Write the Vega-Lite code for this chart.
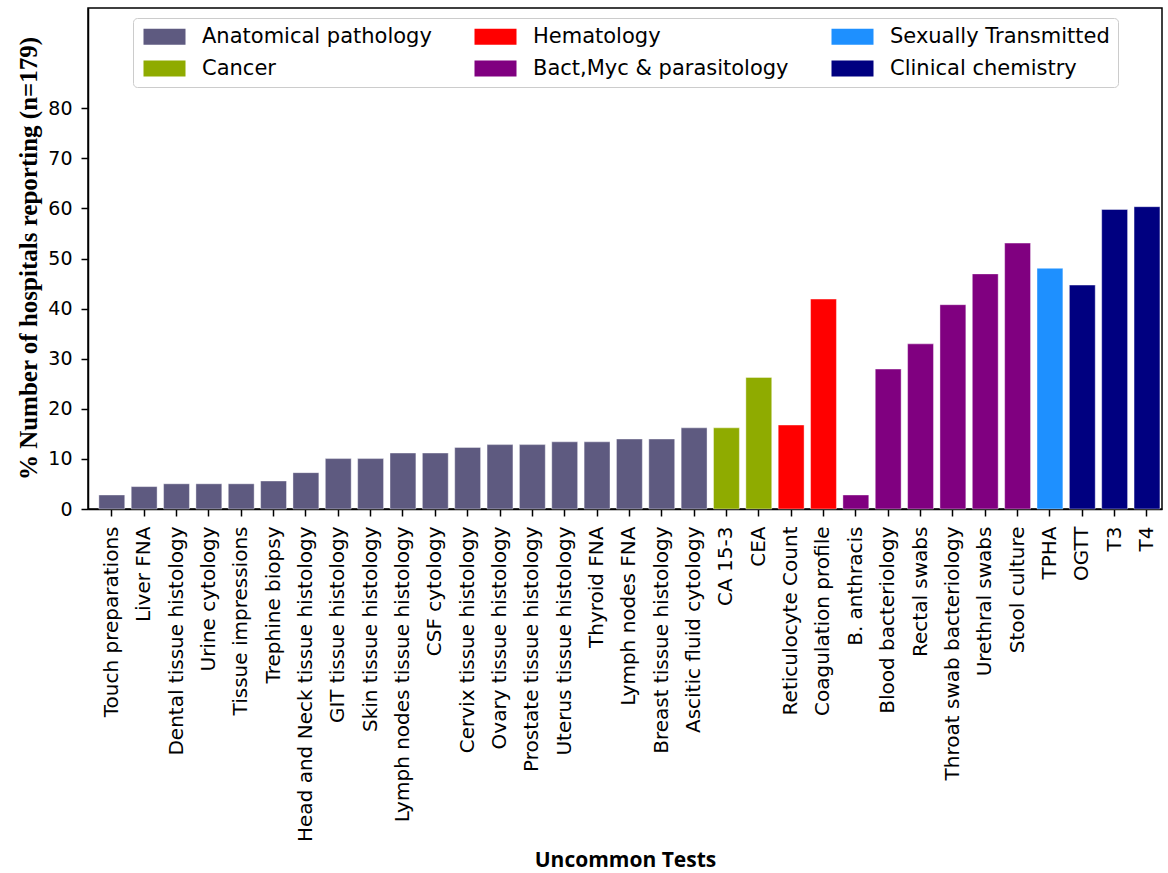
{
  "$schema": "https://vega.github.io/schema/vega-lite/v6.json",
  "autosize": {"type": "none"},
  "width": 1074,
  "height": 501,
  "padding": {"left": 88, "top": 8, "right": 6, "bottom": 364},
  "background": "white",
  "config": {
    "view": {"stroke": "black", "strokeWidth": 1.5},
    "axis": {"grid": false, "domainColor": "black", "domainWidth": 1.5, "tickColor": "black", "tickWidth": 1.5, "labelColor": "black", "titleColor": "black"}
  },
  "data": {
    "values": [
      {"test": "Touch preparations", "value": 2.8, "category": "Anatomical pathology"},
      {"test": "Liver FNA", "value": 4.47, "category": "Anatomical pathology"},
      {"test": "Dental tissue histology", "value": 5.03, "category": "Anatomical pathology"},
      {"test": "Urine cytology", "value": 5.03, "category": "Anatomical pathology"},
      {"test": "Tissue impressions", "value": 5.03, "category": "Anatomical pathology"},
      {"test": "Trephine biopsy", "value": 5.59, "category": "Anatomical pathology"},
      {"test": "Head and Neck tissue histology", "value": 7.26, "category": "Anatomical pathology"},
      {"test": "GIT tissue histology", "value": 10.06, "category": "Anatomical pathology"},
      {"test": "Skin tissue histology", "value": 10.06, "category": "Anatomical pathology"},
      {"test": "Lymph nodes tissue histology", "value": 11.17, "category": "Anatomical pathology"},
      {"test": "CSF cytology", "value": 11.17, "category": "Anatomical pathology"},
      {"test": "Cervix tissue histology", "value": 12.29, "category": "Anatomical pathology"},
      {"test": "Ovary tissue histology", "value": 12.85, "category": "Anatomical pathology"},
      {"test": "Prostate tissue histology", "value": 12.85, "category": "Anatomical pathology"},
      {"test": "Uterus tissue histology", "value": 13.41, "category": "Anatomical pathology"},
      {"test": "Thyroid FNA", "value": 13.41, "category": "Anatomical pathology"},
      {"test": "Lymph nodes FNA", "value": 13.97, "category": "Anatomical pathology"},
      {"test": "Breast tissue histology", "value": 13.97, "category": "Anatomical pathology"},
      {"test": "Ascitic fluid cytology", "value": 16.2, "category": "Anatomical pathology"},
      {"test": "CA 15-3", "value": 16.2, "category": "Cancer"},
      {"test": "CEA", "value": 26.26, "category": "Cancer"},
      {"test": "Reticulocyte Count", "value": 16.76, "category": "Hematology"},
      {"test": "Coagulation profile", "value": 41.9, "category": "Hematology"},
      {"test": "B. anthracis", "value": 2.8, "category": "Bact,Myc & parasitology"},
      {"test": "Blood bacteriology", "value": 27.93, "category": "Bact,Myc & parasitology"},
      {"test": "Rectal swabs", "value": 32.96, "category": "Bact,Myc & parasitology"},
      {"test": "Throat swab bacteriology", "value": 40.78, "category": "Bact,Myc & parasitology"},
      {"test": "Urethral swabs", "value": 46.93, "category": "Bact,Myc & parasitology"},
      {"test": "Stool culture", "value": 53.07, "category": "Bact,Myc & parasitology"},
      {"test": "TPHA", "value": 48.04, "category": "Sexually Transmitted"},
      {"test": "OGTT", "value": 44.69, "category": "Clinical chemistry"},
      {"test": "T3", "value": 59.78, "category": "Clinical chemistry"},
      {"test": "T4", "value": 60.34, "category": "Clinical chemistry"}
    ]
  },
  "mark": {"type": "bar", "stroke": "white", "strokeWidth": 0.8, "strokeOpacity": 0.5},
  "encoding": {
    "x": {
      "field": "test",
      "type": "nominal",
      "sort": null,
      "scale": {"paddingInner": 0.2, "paddingOuter": 0.2, "align": 0.84},
      "axis": {
        "title": "Uncommon Tests",
        "titleFont": "Open Sans",
        "titleFontWeight": "bold",
        "titleFontSize": 21,
        "titleY": 351,
        "titleBaseline": "middle",
        "labelFont": "DejaVu Sans",
        "labelFontSize": 20,
        "labelAngle": -90,
        "labelPadding": 10,
        "tickSize": 7,
        "labelOverlap": false,
        "labelLimit": 0
      }
    },
    "y": {
      "field": "value",
      "type": "quantitative",
      "scale": {"domain": [0, 100], "nice": false},
      "axis": {
        "values": [0, 10, 20, 30, 40, 50, 60, 70, 80],
        "title": "% Number of hospitals reporting (n=179)",
        "titleFont": "Liberation Serif",
        "titleFontWeight": "bold",
        "titleFontSize": 25,
        "titleX": -60,
        "titleY": 250,
        "titleAngle": -90,
        "titleAlign": "center",
        "titleBaseline": "middle",
        "labelFont": "DejaVu Sans",
        "labelFontSize": 19,
        "labelPadding": 9,
        "tickSize": 7
      }
    },
    "color": {
      "field": "category",
      "type": "nominal",
      "scale": {
        "domain": ["Anatomical pathology", "Hematology", "Sexually Transmitted", "Cancer", "Bact,Myc & parasitology", "Clinical chemistry"],
        "range": ["#5e5a80", "#ff0000", "#1e90ff", "#8fab00", "#800080", "#000080"]
      },
      "legend": {
        "title": null,
        "orient": "none",
        "legendX": 45,
        "legendY": 10,
        "direction": "horizontal",
        "columns": 3,
        "columnPadding": 40,
        "rowPadding": 10,
        "padding": 8,
        "fillColor": "white",
        "strokeColor": "#cccccc",
        "cornerRadius": 4,
        "symbolType": "M-1,-1H4.25V1H-1Z",
        "symbolSize": 256,
        "symbolStrokeWidth": 0,
        "symbolOpacity": 1,
        "labelOffset": 40,
        "labelFont": "DejaVu Sans",
        "labelFontSize": 21,
        "labelColor": "black",
        "labelLimit": 0
      }
    }
  }
}
